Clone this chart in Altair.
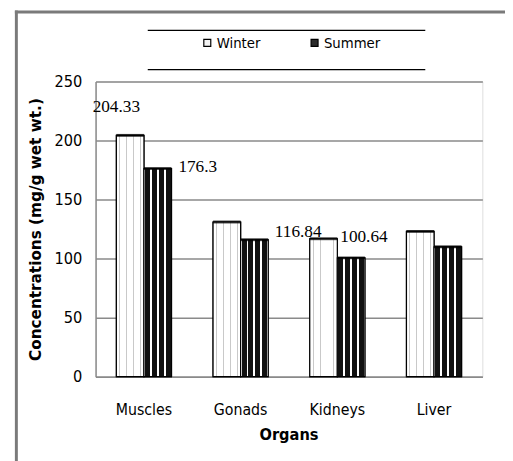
import altair as alt
import pandas as pd

organs = ["Muscles", "Gonads", "Kidneys", "Liver"]
seasons = ["Winter", "Summer"]
winter = [204.33, 131.0, 116.84, 123.0]
summer = [176.3, 116.0, 100.64, 110.0]

rows = []
for i, o in enumerate(organs):
    rows.append({"Organ": o, "Season": "Winter", "Value": winter[i]})
    rows.append({"Organ": o, "Season": "Summer", "Value": summer[i]})
df = pd.DataFrame(rows)

label_text = {("Muscles", "Winter"): "204.33", ("Muscles", "Summer"): "176.3",
              ("Kidneys", "Winter"): "116.84", ("Kidneys", "Summer"): "100.64"}

NARROW = "DejaVu Sans Condensed, DejaVu Sans, sans-serif"
SERIF = "Liberation Serif, serif"
GRID = "#8a8a8a"

x_enc = alt.X("Organ:N", sort=organs,
              scale=alt.Scale(paddingInner=0.43, paddingOuter=0.215),
              axis=alt.Axis(title="Organs", labelAngle=0, ticks=False, tickSize=0,
                            labelFont=NARROW, labelFontSize=16, labelColor="black",
                            labelPadding=33, labelBaseline="middle",
                            titleFont=NARROW, titleFontSize=16.5, titleFontWeight="bold",
                            titleColor="black", titleX=196, titleY=59,
                            titleBaseline="middle",
                            domainColor=GRID, domainWidth=1.5, grid=False))
xo_enc = alt.XOffset("Season:N", sort=seasons, scale=alt.Scale(paddingInner=0, paddingOuter=0))
y_enc = alt.Y("Value:Q", scale=alt.Scale(domain=[0, 250], nice=False),
              axis=alt.Axis(title="Concentrations (mg/g wet wt.)", values=[0, 50, 100, 150, 200, 250],
                            ticks=False, tickSize=0, labelFont=NARROW, labelFontSize=16.5,
                            labelColor="black", labelPadding=14,
                            titleFont="DejaVu Sans", titleFontSize=15.5, titleFontWeight="bold",
                            titleColor="black", titleAngle=-90, titleX=-61, titleY=150,
                            titleAlign="center", titleBaseline="middle",
                            grid=True, gridColor=GRID, gridWidth=1.5,
                            domainColor=GRID, domainWidth=1.5))

color_enc = alt.Color("Season:N", sort=seasons,
                      scale=alt.Scale(domain=seasons, range=["#f4f4f4", "#2a2a2a"]),
                      legend=alt.Legend(title=None, orient="none", direction="horizontal",
                                        legendX=106, legendY=-47, symbolType="square",
                                        symbolSize=50, symbolStrokeColor="black",
                                        symbolStrokeWidth=1.2, labelFont=NARROW,
                                        labelFontSize=15, labelColor="black",
                                        labelOffset=2, columnPadding=47))

def stripes(bg, fg, n, frac):
    stops = []
    w = 1.0 / n
    for i in range(n):
        a = i * w + w * (1 - frac) / 2
        b = a + w * frac
        stops += [alt.GradientStop(color=bg, offset=max(i * w, 0.0)),
                  alt.GradientStop(color=bg, offset=a),
                  alt.GradientStop(color=fg, offset=a),
                  alt.GradientStop(color=fg, offset=b),
                  alt.GradientStop(color=bg, offset=b)]
    stops.append(alt.GradientStop(color=bg, offset=1.0))
    return alt.Gradient(gradient="linear", stops=stops, x1=0, x2=1, y1=0, y2=0)

base = alt.Chart(df)
bars = base.mark_bar(stroke="black", strokeWidth=1.2).encode(
    x=x_enc, xOffset=xo_enc, y=y_enc, color=color_enc)
pos = dict(x=alt.X("Organ:N", sort=organs), xOffset=alt.XOffset("Season:N", sort=seasons),
           y="Value:Q")
win_tex = base.transform_filter(alt.datum.Season == "Winter").mark_bar(
    fill=stripes("#ffffff", "#c9c9c9", 4, 0.12), stroke="black", strokeWidth=1.2).encode(**pos)
sum_tex = base.transform_filter(alt.datum.Season == "Summer").mark_bar(
    fill=stripes("#ffffff", "#111111", 4, 0.72), stroke="black", strokeWidth=1.2).encode(**pos)
tops = base.mark_tick(color="black", thickness=3, size=28).encode(**pos)

def lab(organ, season, align, dx, dy):
    d = df[(df.Organ == organ) & (df.Season == season)].copy()
    d["Label"] = label_text[(organ, season)]
    return alt.Chart(d).mark_text(font=SERIF, fontSize=17.5, align=align, baseline="middle",
                                  dx=dx, dy=dy, color="black").encode(
        x=alt.X("Organ:N", sort=organs), xOffset=alt.XOffset("Season:N", sort=seasons),
        y="Value:Q", text="Label:N")

labels = [lab("Muscles", "Winter", "right", 10, -29),
          lab("Muscles", "Summer", "left", 21, -1),
          lab("Kidneys", "Winter", "right", -2, -7),
          lab("Kidneys", "Summer", "left", -11, -21)]

one = pd.DataFrame({"k": [0]})
frame_top = alt.Chart(one).mark_rule(color="#7a7a7a", strokeWidth=3).encode(
    x=alt.value(-82), x2=alt.value(430), y=alt.value(-70.5))
frame_left = alt.Chart(one).mark_rule(color="#7a7a7a", strokeWidth=3).encode(
    x=alt.value(-80.5), y=alt.value(-72), y2=alt.value(390))
leg_top = alt.Chart(one).mark_rule(color="black", strokeWidth=1.3).encode(
    x=alt.value(53), x2=alt.value(335), y=alt.value(-52))
leg_bot = alt.Chart(one).mark_rule(color="black", strokeWidth=1.3).encode(
    x=alt.value(53), x2=alt.value(335), y=alt.value(-12))

chart = alt.layer(frame_top, frame_left, leg_top, leg_bot, bars, win_tex, sum_tex, tops,
                  *labels).properties(
    width=393, height=300,
    autosize=alt.AutoSizeParams(type="none"),
    padding={"left": 89, "top": 71, "right": 23, "bottom": 82},
).configure_view(stroke=None).configure(background="white")

chart.save("out.html", embed_options={"renderer": "svg", "actions": False})
